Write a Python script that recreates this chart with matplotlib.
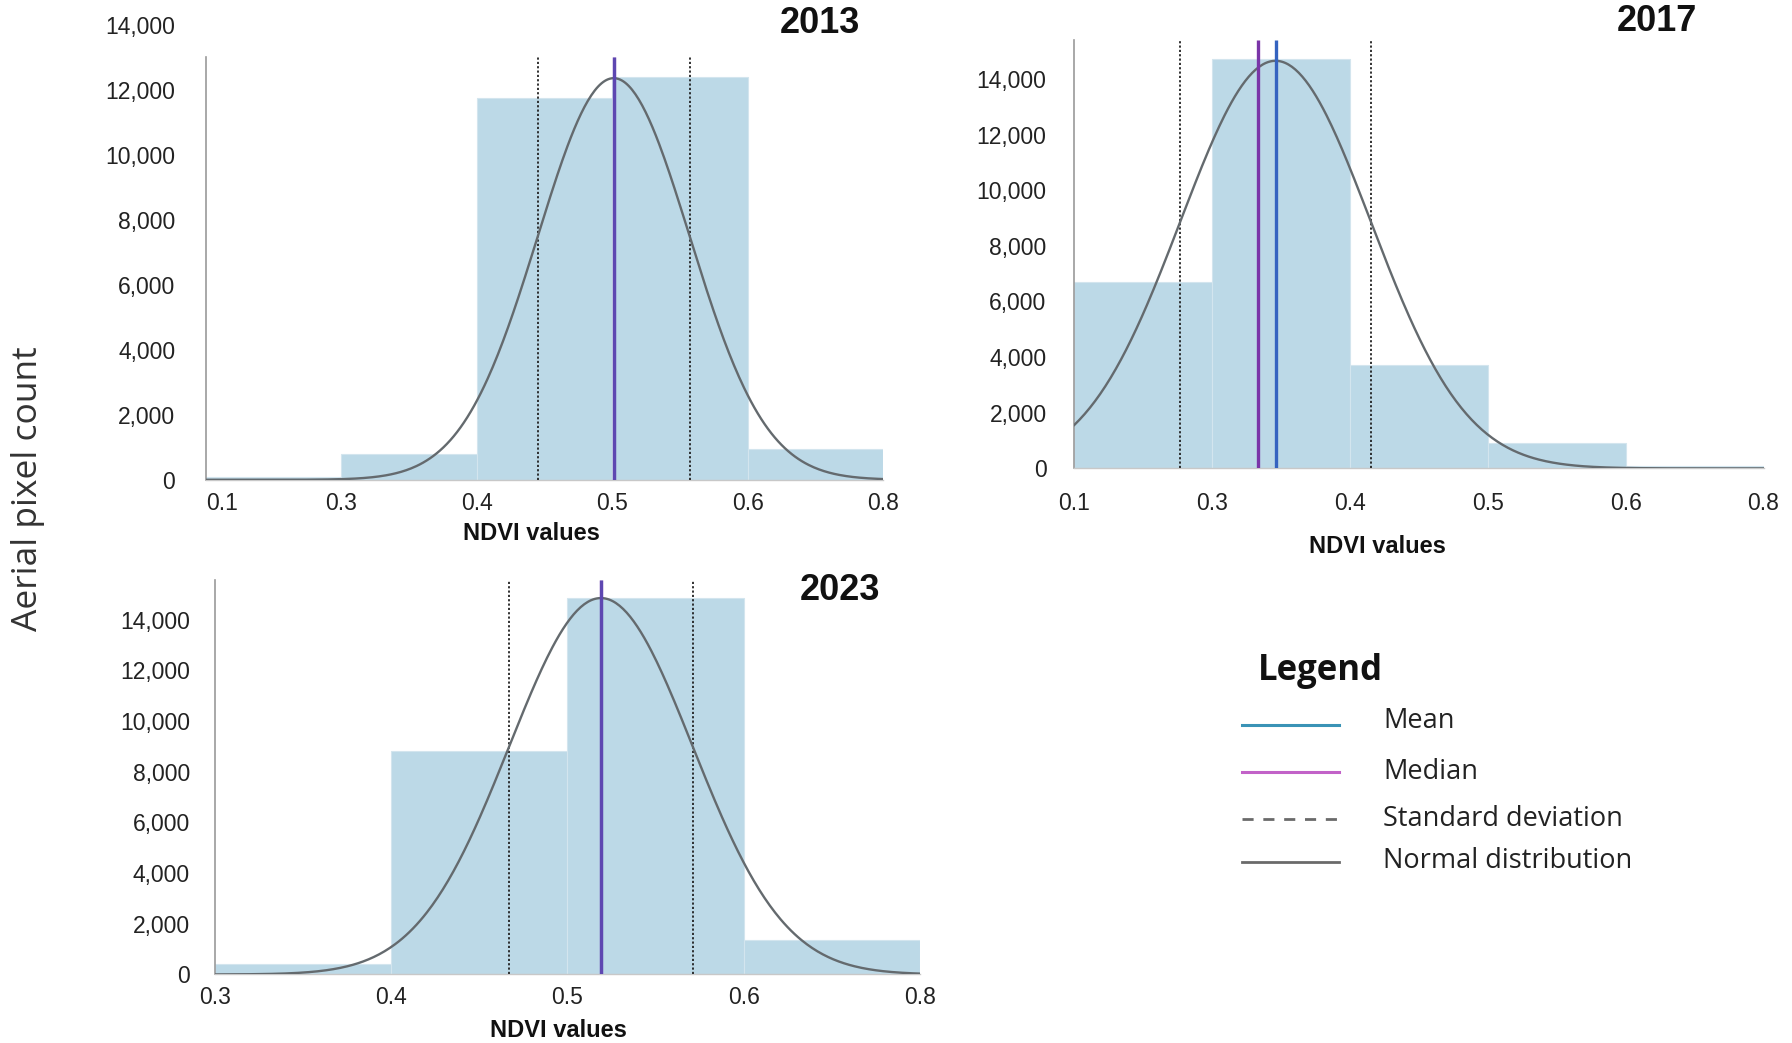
import numpy as np
import matplotlib
matplotlib.use("Agg")
import matplotlib.pyplot as plt
from matplotlib.lines import Line2D

# ---------------- data ----------------
edges_2013 = ["0.1", "0.3", "0.4", "0.5", "0.6", "0.8"]
counts_2013 = [80, 800, 11750, 12400, 960]
mean_2013, median_2013, sd_2013, peak_2013 = 0.501, 0.501, 0.056, 12350

edges_2017 = ["0.1", "0.3", "0.4", "0.5", "0.6", "0.8"]
counts_2017 = [6700, 14700, 3700, 900, 100]
mean_2017, median_2017, sd_2017, peak_2017 = 0.346, 0.3335, 0.069, 14650

edges_2023 = ["0.3", "0.4", "0.5", "0.6", "0.8"]
counts_2023 = [430, 8830, 14870, 1350]
mean_2023, median_2023, sd_2023, peak_2023 = 0.519, 0.519, 0.052, 14850

years = ["2013", "2017", "2023"]
y_ticks = [0, 2000, 4000, 6000, 8000, 10000, 12000, 14000]
legend_labels = ["Mean", "Median", "Standard deviation", "Normal distribution"]

# ---------------- style ----------------
NARROW = ["Liberation Sans", "DejaVu Sans"]
SANS = ["Open Sans", "DejaVu Sans"]
BAR = "#bcd9e7"
CURVE = "#646a6e"
MEAN_C = "#3563c0"
MEDIAN_C = "#7a35a8"
LEG_MEAN = "#3a93b6"
LEG_MEDIAN = "#c262c8"

W, H = 1792, 1043
fig = plt.figure(figsize=(W / 100, H / 100), dpi=100)


def to_pos(v, edges):
    e = np.array([float(x) for x in edges])
    return np.interp(v, e, np.arange(len(e)))


def panel(rect, edges, counts, mean, median, sd, peak, ylim_top, line_top,
          title, title_xy, xlabel_xy, xpad, ypad, first_left=False):
    ax = fig.add_axes(rect)
    n = len(counts)
    pos = np.arange(n)
    ax.bar(pos, counts, width=1.0, align="edge", color=BAR,
           edgecolor="#d3e5ee", linewidth=0.8, zorder=1)
    # normal distribution curve, in bin (position) units
    mp = to_pos(mean, edges)
    sp = sd / 0.1
    xs = np.linspace(0, n, 400)
    ax.plot(xs, peak * np.exp(-0.5 * ((xs - mp) / sp) ** 2), color=CURVE,
            lw=1.7, zorder=4)
    # standard deviation lines
    for s in (-1, 1):
        ax.vlines(mp + s * sp, 0, line_top, colors="#222222", linestyles=(0, (1.2, 1.2)),
                  lw=1.3, zorder=3)
    # median and mean
    same = abs(mean - median) < 1e-3
    ax.vlines(to_pos(median, edges), 0, line_top, colors=MEDIAN_C, lw=2.4, zorder=5)
    ax.vlines(mp, 0, line_top, colors=MEAN_C, lw=2.4, alpha=0.4 if same else 1.0,
              zorder=6)

    ax.set_xlim(0, n)
    ax.set_ylim(0, ylim_top)
    ax.set_xticks(np.arange(n + 1))
    ax.set_xticklabels(edges)
    ax.set_yticks(y_ticks)
    ax.set_yticklabels([f"{v:,}" for v in y_ticks])
    ax.tick_params(axis="x", length=0, pad=xpad, labelsize=16.5, colors="#222222")
    ax.tick_params(axis="y", length=0, pad=ypad, labelsize=16.5, colors="#222222")
    for lab in ax.get_xticklabels() + ax.get_yticklabels():
        lab.set_family(NARROW)
    if first_left:
        ax.get_xticklabels()[0].set_horizontalalignment("left")
    for s in ("top", "right"):
        ax.spines[s].set_visible(False)
    ax.spines["left"].set_color("#9a9a9a")
    ax.spines["left"].set_linewidth(1.2)
    ax.spines["left"].set_bounds(0, line_top)
    ax.spines["bottom"].set_color("#c8c8c8")
    ax.spines["bottom"].set_linewidth(1.0)
    ax.patch.set_alpha(0)
    fig.text(title_xy[0], title_xy[1], title, ha="center", va="center",
             fontsize=26, fontweight="bold", family=NARROW, color="#111111")
    fig.text(xlabel_xy[0], xlabel_xy[1], "NDVI values", ha="center", va="center",
             fontsize=17, fontweight="bold", family=NARROW, color="#111111")
    return ax


panel([0.1148, 0.5400, 0.3782, 0.4365], edges_2013, counts_2013, mean_2013,
      median_2013, sd_2013, peak_2013, 14000, 13000, years[0],
      (0.4573, 0.9775), (0.2966, 0.4885), 9, 22, first_left=True)
panel([0.5995, 0.5509, 0.3846, 0.4108], edges_2017, counts_2017, mean_2017,
      median_2017, sd_2017, peak_2017, 15400, 15400, years[1],
      (0.9247, 0.9790), (0.7685, 0.4765), 17, 20)
panel([0.1199, 0.0657, 0.3935, 0.3779], edges_2023, counts_2023, mean_2023,
      median_2023, sd_2023, peak_2023, 15550, 15550, years[2],
      (0.4688, 0.4337), (0.3119, 0.0121), 8, 18)

fig.text(0.0159, 0.5312, "Aerial pixel count", rotation=90, ha="center", va="center",
         fontsize=25.5, family=SANS, color="#333333")

# ---------------- legend ----------------
fig.text(0.7366, 0.3571, "Legend", ha="center", va="center", fontsize=25,
         fontweight="bold", family=SANS, color="#111111")
leg_styles = [
    dict(color=LEG_MEAN, lw=2.2, ls="-"),
    dict(color=LEG_MEDIAN, lw=2.2, ls="-"),
    dict(color="#6a6a6a", lw=2.0, ls=(0, (4, 3.5))),
    dict(color="#6a6a6a", lw=2.0, ls="-"),
]
leg_y = [0.3050, 0.2596, 0.2147, 0.1731]
txt_y = [0.3090, 0.2596, 0.2147, 0.1742]
for lab, st, ly, ty in zip(legend_labels, leg_styles, leg_y, txt_y):
    fig.add_artist(Line2D([0.6932, 0.7474], [ly, ly], transform=fig.transFigure, **st))
    fig.text(0.7717, ty, lab, ha="left", va="center", fontsize=19.5, family=SANS,
             color="#222222")

fig.savefig("out.png", dpi=100)
